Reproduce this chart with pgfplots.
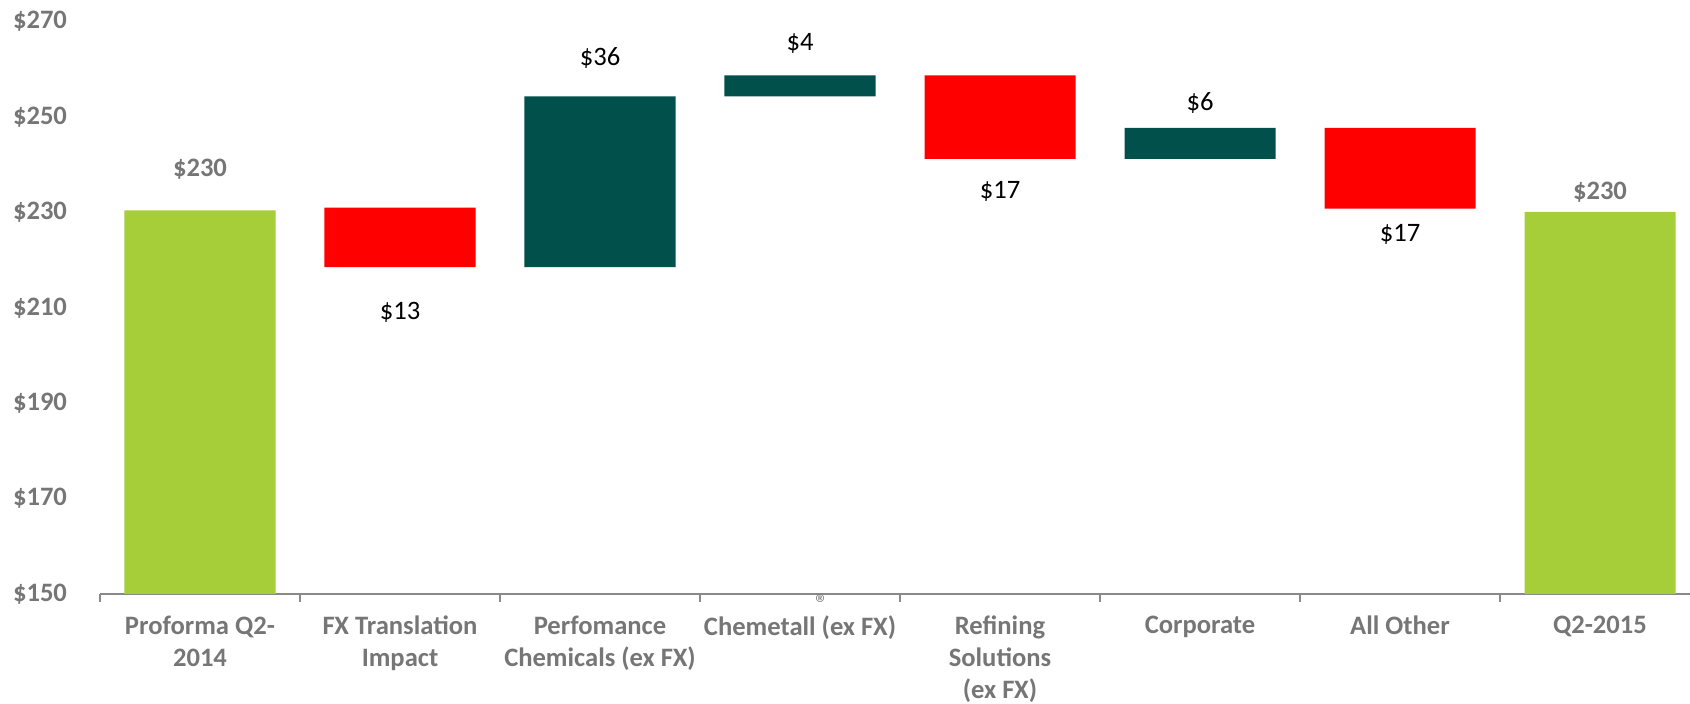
\documentclass[border=0pt]{standalone}
\usepackage{fontspec}
\setmainfont{Carlito}
\usepackage{pgfplots}
\usepackage{pgfplotstable}
\pgfplotsset{compat=1.18}
\definecolor{cgreen}{RGB}{166,206,57}
\definecolor{cteal}{RGB}{2,80,76}
\definecolor{cred}{RGB}{255,0,0}
\definecolor{cgray}{RGB}{118,118,118}
\definecolor{caxis}{RGB}{137,137,137}
\pgfplotstableread{
x base green red teal
0 0     230.4 0    0
1 218.5 0     12.5 0
2 218.5 0     0    35.8
3 254.3 0     0    4.4
4 241.2 0     17.5 0
5 241.2 0     0    6.5
6 230.8 0     16.9 0
7 0     230.1 0    0
}\wf
\newcommand{\lblfont}{\fontsize{13.3bp}{16bp}\selectfont}
\begin{document}
\begin{tikzpicture}
\path[use as bounding box] (-50bp,-55bp) rectangle (795bp,297bp);
\begin{axis}[
  at={(0,0)}, anchor=south west,
  width=800bp, height=286.2bp, scale only axis,
  xmin=-0.5, xmax=7.5, ymin=150, ymax=270,
  ybar stacked, bar width=75.5bp,
  axis lines*=left,
  y axis line style={draw=none},
  x axis line style={caxis, line width=1bp},
  ytick={150,170,...,270},
  yticklabels={\$150,\$170,\$190,\$210,\$230,\$250,\$270},
  ytick style={draw=none},
  yticklabel style={font=\lblfont\bfseries, text=cgray, xshift=-9bp},
  xtick={-0.5,0.5,...,7.5},
  xticklabels={{Proforma Q2-\\2014},{FX Translation\\Impact},{Perfomance\\Chemicals (ex FX)},{Chemetall (ex FX)},{Refining\\Solutions\\(ex FX)},{Corporate},{All Other},{Q2-2015},{}},
  xticklabel style={font=\lblfont\bfseries, text=cgray, align=center, xshift=50bp, anchor=north, yshift=-3.5bp},
  x tick style={caxis, line width=1bp},
  tick align=outside, major tick length=4bp,
  clip mode=individual,
]
\addplot[fill=none, draw=none] table[x=x, y=base] {\wf};
\addplot[fill=cgreen, draw=none] table[x=x, y=green] {\wf};
\addplot[fill=cred, draw=none] table[x=x, y=red] {\wf};
\addplot[fill=cteal, draw=none] table[x=x, y=teal] {\wf};

\node[font=\lblfont\bfseries, text=cgray] at (axis cs:0,239) {\$230};
\node[font=\lblfont] at (axis cs:1,209) {\$13};
\node[font=\lblfont] at (axis cs:2,262.3) {\$36};
\node[font=\lblfont] at (axis cs:3,265.5) {\$4};
\node[font=\lblfont] at (axis cs:4,234.5) {\$17};
\node[font=\lblfont] at (axis cs:5,253) {\$6};
\node[font=\lblfont] at (axis cs:6,225.3) {\$17};
\node[font=\lblfont\bfseries, text=cgray] at (axis cs:7,234.3) {\$230};
\node[font=\fontsize{13bp}{14bp}\selectfont, text=cgray, inner sep=0pt, text depth=0pt, anchor=north] at (axis cs:3.11,150) [yshift=-0.3bp] {\symbol{"00AE}};
\end{axis}
\end{tikzpicture}
\end{document}
